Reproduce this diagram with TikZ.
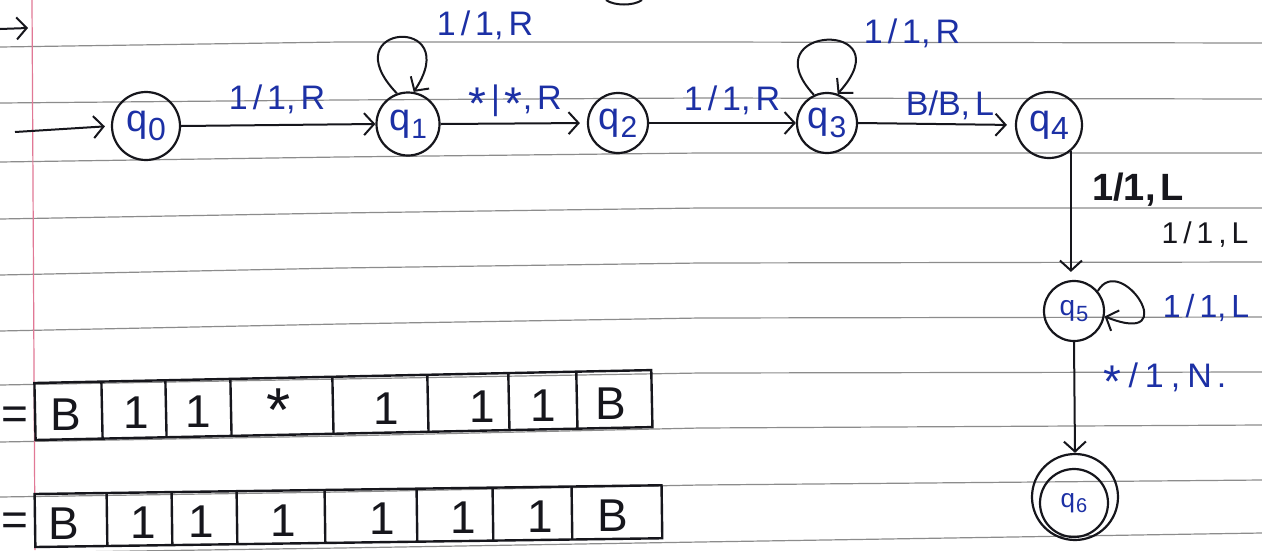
\documentclass[tikz,border=0pt]{standalone}
\usepackage{fontspec}
\usepackage{graphicx}
\setmainfont{Liberation Sans}
\usetikzlibrary{arrows.meta,calc}
\definecolor{ink}{RGB}{22,22,28}
\definecolor{blueink}{RGB}{28,48,165}
\definecolor{paperline}{RGB}{140,140,140}
\definecolor{marginred}{RGB}{225,120,150}
\newcommand{\stl}[2]{q\kern1pt\raisebox{-0.22em}{\fontsize{#2}{#2}\selectfont #1}}
\newcommand{\gp}{\kern5pt}
\newcommand{\hstar}{\raisebox{-0.28em}{\scalebox{1.35}{*}}}
\begin{document}
\begin{tikzpicture}[x=1pt,y=-1pt,
  paper/.style={draw=paperline,line width=1.2pt},
  state/.style={circle,draw=ink,line width=2.2pt,inner sep=0pt,text=blueink,font=\fontsize{38}{38}\selectfont},
  arr/.style={draw=ink,line width=2pt,-{Straight Barb[length=10pt,width=22pt]}},
  elab/.style={text=blueink,font=\fontsize{34}{34}\selectfont,inner sep=0pt},
  tape/.style={draw=ink,line width=2.4pt},
  cell/.style={text=ink,font=\fontsize{46}{46}\selectfont,inner sep=0pt}
]
\useasboundingbox (0,0) rectangle (1262,550);
\fill[white] (0,0) rectangle (1262,550);
% ruled paper
\draw[paper] (0,47) -- (340,42) -- (700,42) -- (1262,43);
\draw[paper] (0,103) -- (340,100) -- (700,98) -- (1262,99);
\draw[paper] (0,162) -- (340,157) -- (700,153) -- (1262,153);
\draw[paper] (0,219) -- (340,213) -- (700,208) -- (1262,208);
\draw[paper] (0,275) -- (340,268) -- (700,263) -- (1262,262);
\draw[paper] (0,331) -- (340,324) -- (700,318) -- (1262,317);
\draw[paper] (0,385) -- (340,379) -- (700,373) -- (1262,372);
\draw[paper] (0,442) -- (340,436) -- (700,428) -- (1262,425);
\draw[paper] (0,497) -- (340,492) -- (700,485) -- (1262,480);
\draw[paper] (0,553) -- (340,548) -- (700,542) -- (1262,533);
\draw[draw=marginred,line width=1.2pt] (32,0) -- (35,550);
% stray stroke at top
\draw[ink,line width=2pt] (606,0) .. controls (614,6) and (634,6) .. (642,0);
% top-left arrow
\coordinate (tl0) at (0,29);
\coordinate (tl1) at (28,28);
\draw[arr] (tl0) -- (tl1);
% states
\node[state,minimum size=68pt] (q0) at (146,126) {\stl{0}{32}};
\node[state,minimum size=63pt] (q1) at (408,124) {\stl{1}{28}};
\node[state,minimum size=60pt] (q2) at (618,123) {\stl{2}{30}};
\node[state,minimum size=60pt] (q3) at (827,123) {\stl{3}{30}};
\node[state,minimum size=66pt] (q4) at (1049,125) {\stl{4}{32}};
\node[state,minimum size=60pt,font=\fontsize{28}{28}\selectfont] (q5) at (1074,311) {\stl{5}{22}};
\node[state,minimum size=86pt] (q6) at (1075,497) {};
\node[state,minimum size=68pt,font=\fontsize{26}{26}\selectfont] (q6in) at (1074,503) {\raisebox{-0.3em}{\stl{6}{20}}};
% start arrow
\coordinate (start) at (15,132);
\draw[arr,shorten >=6pt] (start) -- (q0.west);
% transitions
\draw[arr] (q0.east) -- (q1.west);
\draw[arr,shorten >=7pt] (q1.east) -- (q2.west);
\draw[arr] (q2.east) -- (q3.west);
\draw[arr,shorten >=8pt] (q3.east) -- (q4.west);
\draw[arr] (q1.110) .. controls +(-67,-70) and +(52,-78) .. (q1.80);
\draw[arr] (q3.115) .. controls +(-65,-70) and +(68,-75) .. (q3.70);
\draw[arr,shorten >=8pt] (q4.-50) -- (q4.-50 |- q5.north);
\draw[arr] (q5.40) .. controls +(23,-40) and +(80,32) .. (q5.-10);
\draw[arr] (q5.south) -- (q6.north);
% labels
\node[elab] (l01) at (277,99) {1\gp/\gp1,\gp R};
\node[elab] (l11) at (485,25) {1\gp/\gp1,\gp R};
\node[elab] (l12) at (515,102) {\hstar\gp|\gp\hstar,\gp R};
\node[elab] (l23) at (732,100) {1\gp/\gp1,\gp R};
\node[elab] (l33) at (912,33) {1\gp/\gp1,\gp R};
\node[elab] (l34) at (950,105) {B/B,\gp L};
\node[elab,text=ink,font=\fontsize{38}{38}\selectfont\bfseries] (l45a) at (1138,190) {1/1,\gp L};
\node[elab,text=ink,font=\fontsize{30}{30}\selectfont] (l45b) at (1205,235) {1\gp/\gp1\gp,\gp L};
\node[elab,font=\fontsize{32}{32}\selectfont] (l55) at (1206,308) {1\gp/\gp1,\gp L};
\node[elab] (l56) at (1165,380) {\hstar\kern7pt/\kern7pt1\kern7pt,\kern7pt N\kern5pt.};
% tapes
\node[cell] (eq1) at (15,418) {=};
\node[cell] (eq2) at (15,524) {=};
\begin{scope}[rotate around={1.2:(35,411)}]
  \draw[tape] (35,383) rectangle (652,440);
  \foreach \xx in {102,166,231,333,428,509,577} \draw[tape] (\xx,383) -- (\xx,440);
  \node[cell] (a1) at (66,415) {B};
  \node[cell] (a2) at (136,415) {1};
  \node[cell] (a3) at (198,415) {1};
  \node[cell] (a4) at (279,415) {\hstar};
  \node[cell] (a5) at (386,416) {1};
  \node[cell] (a6) at (482,416) {1};
  \node[cell] (a7) at (543,416) {1};
  \node[cell] (a8) at (611,416) {B};
\end{scope}
\begin{scope}[rotate around={0.8:(35,521)}]
  \draw[tape] (35,494) rectangle (662,547);
  \foreach \xx in {107,172,237,325,417,493,572} \draw[tape] (\xx,494) -- (\xx,547);
  \node[cell] (b1) at (64,524) {B};
  \node[cell] (b2) at (143,524) {1};
  \node[cell] (b3) at (201,524) {1};
  \node[cell] (b4) at (283,524) {1};
  \node[cell] (b5) at (382,524) {1};
  \node[cell] (b6) at (463,524) {1};
  \node[cell] (b7) at (540,524) {1};
  \node[cell] (b8) at (613,524) {B};
\end{scope}
\end{tikzpicture}
\end{document}
